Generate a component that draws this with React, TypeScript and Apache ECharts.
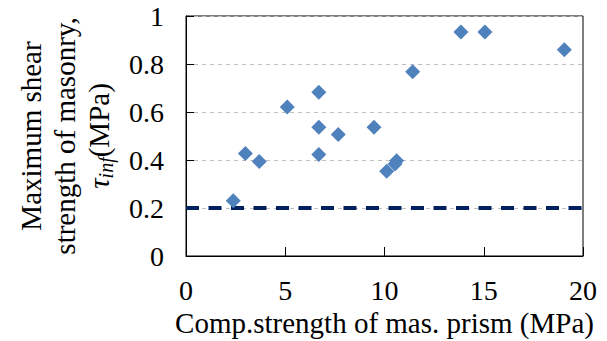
import React, { useEffect, useRef } from "react";
import * as echarts from "echarts";

const compStrength = [2.38, 2.99, 3.69, 5.1, 6.69, 6.69, 6.69, 7.67, 9.47, 10.11, 10.53, 10.61, 11.42, 13.85, 15.06, 19.06];
const shearStrength = [0.23, 0.427, 0.394, 0.621, 0.682, 0.536, 0.423, 0.506, 0.536, 0.353, 0.383, 0.397, 0.768, 0.933, 0.933, 0.859];
const thresholdX = [0, 20];
const thresholdY = [0.2, 0.2];

const FONT = "Liberation Serif";

export default function App() {
  const ref = useRef<HTMLDivElement>(null);
  useEffect(() => {
    if (!ref.current) return;
    const chart = echarts.init(ref.current, undefined, { renderer: "svg" });
    const points = compStrength.map((x, i) => [x, shearStrength[i]]);
    const thr = thresholdX.map((x, i) => [x, thresholdY[i]]);
    chart.setOption({
      animation: false,
      backgroundColor: "#ffffff",
      textStyle: { fontFamily: FONT },
      grid: {
        left: 186,
        top: 16,
        width: 397,
        height: 240,
        show: true,
        borderColor: "#000000",
        borderWidth: 1,
        containLabel: false,
        outerBoundsMode: "none",
      },
      xAxis: {
        type: "value",
        min: 0,
        max: 20,
        interval: 5,
        name: "Comp.strength of mas. prism (MPa)",
        nameLocation: "middle",
        nameGap: 48,
        nameTextStyle: { fontFamily: FONT, fontSize: 29, color: "#000" },
        axisLine: { show: true, lineStyle: { color: "#000", width: 1 } },
        axisTick: { show: true, inside: true, length: 9, lineStyle: { color: "#000" } },
        axisLabel: { fontFamily: FONT, fontSize: 28, color: "#000", margin: 20 },
        splitLine: { show: false },
      },
      yAxis: {
        type: "value",
        min: 0,
        max: 1,
        interval: 0.2,
        name: "Maximum shear\nstrength of masonry,\n{tau|τ}{sub|inf}(MPa)",
        nameLocation: "middle",
        nameGap: 70,
        nameTextStyle: {
          fontFamily: FONT,
          fontSize: 29,
          color: "#000",
          lineHeight: 34,
          align: "center",
          rich: {
            tau: { fontFamily: FONT, fontSize: 29, fontStyle: "italic", color: "#000", lineHeight: 34 },
            sub: { fontFamily: FONT, fontSize: 20, fontStyle: "italic", color: "#000", verticalAlign: "bottom", lineHeight: 34 },
          },
        },
        axisLine: { show: true, lineStyle: { color: "#000", width: 1 } },
        axisTick: { show: true, inside: true, length: 8, lineStyle: { color: "#000" } },
        axisLabel: { fontFamily: FONT, fontSize: 28, color: "#000", margin: 22 },
        splitLine: { show: true, lineStyle: { color: "#bfbfbf", width: 1, type: [4, 4] } },
      },
      series: [
        {
          type: "line",
          data: thr,
          symbol: "none",
          lineStyle: { color: "#002060", width: 4, type: [13, 9.5] },
          z: 2,
        },
        {
          type: "scatter",
          data: points,
          symbol: "diamond",
          symbolSize: 15,
          itemStyle: { color: "#4F81BD", opacity: 1 },
          z: 3,
        },
      ],
    });
    return () => chart.dispose();
  }, []);
  return (
    <div
      ref={ref}
      style={{ position: "fixed", left: 0, top: 0, width: 607, height: 341, background: "#fff" }}
    />
  );
}
